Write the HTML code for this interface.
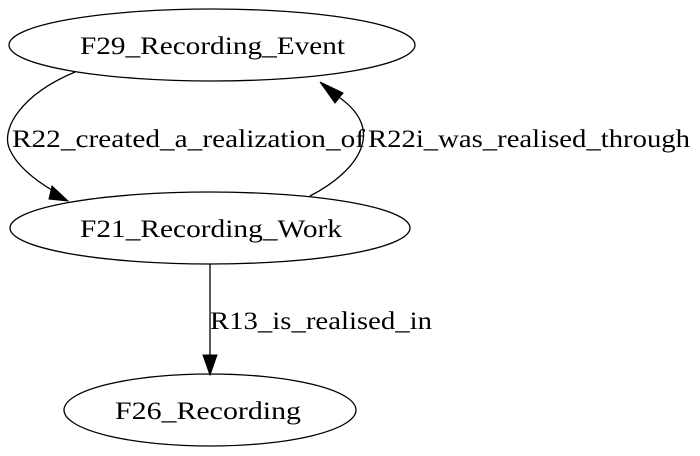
<!DOCTYPE html>
<html><head><meta charset="utf-8"><style>html,body{margin:0;padding:0;background:#fff}svg{display:block}text{font-family:"Liberation Serif","Times New Roman",serif;font-size:25px}</style></head>
<body>
<svg width="700" height="456" viewBox="0 0 700 456" xmlns="http://www.w3.org/2000/svg">
<g fill="none" stroke="#000" stroke-width="1.3">
<ellipse cx="212" cy="45" rx="203" ry="36"/>
<ellipse cx="210" cy="228" rx="200" ry="36"/>
<ellipse cx="210" cy="410" rx="146" ry="36"/>
<path d="M75,72 C20,95 0,130 10,150 C18,168 38,182 55,192"/>
<path d="M310,196 C360,170 385,130 340,98"/>
<path d="M210,264 L210,356"/>
</g>
<g fill="#000" stroke="#000">
<polygon points="52,186 68,201 49,199"/>
<polygon points="343,93 320,82 335,103"/>
<polygon points="203,355 217,355 210,375"/>
</g>
<g fill="#000">
<text x="80" y="54" textLength="265" lengthAdjust="spacingAndGlyphs">F29_Recording_Event</text>
<text x="80" y="237" textLength="262" lengthAdjust="spacingAndGlyphs">F21_Recording_Work</text>
<text x="115" y="419" textLength="186" lengthAdjust="spacingAndGlyphs">F26_Recording</text>
<text x="12" y="147" textLength="353" lengthAdjust="spacingAndGlyphs">R22_created_a_realization_of</text>
<text x="368" y="147" textLength="322" lengthAdjust="spacingAndGlyphs">R22i_was_realised_through</text>
<text x="210" y="329" textLength="222" lengthAdjust="spacingAndGlyphs">R13_is_realised_in</text>
</g>
</svg>
</body></html>
